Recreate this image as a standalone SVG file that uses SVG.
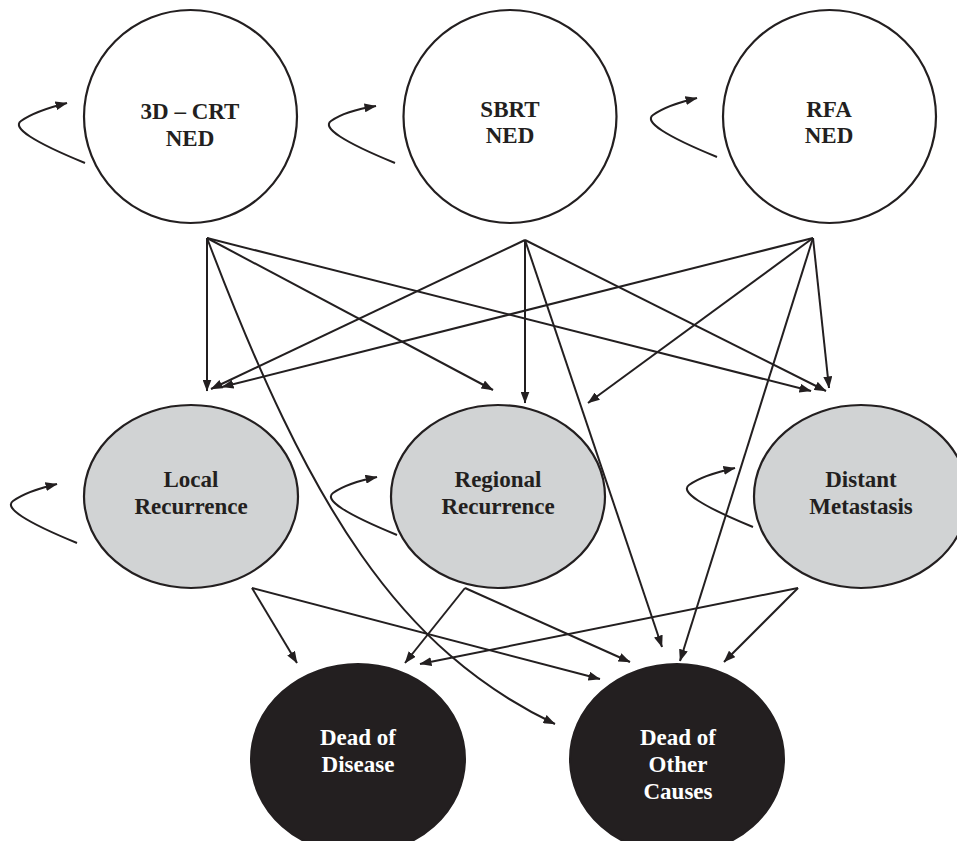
<svg xmlns="http://www.w3.org/2000/svg" width="957" height="841" viewBox="0 0 957 841">
<defs>
<marker id="ah" viewBox="0 0 12 9" refX="11.5" refY="4.5" markerWidth="12" markerHeight="9" markerUnits="userSpaceOnUse" orient="auto">
<path d="M0,0 L12,4.5 L0,9 z" fill="#231f20"/>
</marker>
</defs>
<style>
.c{fill:none;stroke:#231f20;stroke-width:2;marker-end:url(#ah)}
.top{fill:#ffffff;stroke:#231f20;stroke-width:2.2}
.mid{fill:#d1d3d4;stroke:#231f20;stroke-width:2.2}
.bot{fill:#231f20;stroke:#231f20;stroke-width:2}
text{font-family:"Liberation Serif","Times New Roman",serif;font-weight:bold;font-size:23px;text-anchor:middle}
.dk{fill:#231f20}
.wt{fill:#ffffff}
</style>
<rect width="957" height="841" fill="#ffffff"/>
<g id="n-3dcrt">
<circle class="top" cx="190.5" cy="116.5" r="106.5"/>
<text class="dk" x="190" y="119">3D – CRT</text>
<text class="dk" x="190" y="146">NED</text>
</g>
<g id="n-sbrt">
<circle class="top" cx="510" cy="116.5" r="106.5"/>
<text class="dk" x="510" y="117">SBRT</text>
<text class="dk" x="510" y="143">NED</text>
</g>
<g id="n-rfa">
<circle class="top" cx="829.5" cy="116.5" r="106.5"/>
<text class="dk" x="829" y="117">RFA</text>
<text class="dk" x="829" y="143">NED</text>
</g>
<g id="n-local">
<ellipse class="mid" cx="191" cy="496.5" rx="107" ry="91.5"/>
<text class="dk" x="191" y="487">Local</text>
<text class="dk" x="191" y="514">Recurrence</text>
</g>
<g id="n-regional">
<ellipse class="mid" cx="498" cy="496.5" rx="107" ry="91.5"/>
<text class="dk" x="498" y="487">Regional</text>
<text class="dk" x="498" y="514">Recurrence</text>
</g>
<g id="n-distant">
<ellipse class="mid" cx="861" cy="496.5" rx="107" ry="91.5"/>
<text class="dk" x="861" y="487">Distant</text>
<text class="dk" x="861" y="514">Metastasis</text>
</g>
<g id="n-dod">
<ellipse class="bot" cx="358" cy="759" rx="107" ry="95"/>
<text class="wt" x="358" y="745">Dead of</text>
<text class="wt" x="358" y="772">Disease</text>
</g>
<g id="n-dooc">
<ellipse class="bot" cx="677" cy="759" rx="107" ry="95"/>
<text class="wt" x="678" y="745">Dead of</text>
<text class="wt" x="678" y="772">Other</text>
<text class="wt" x="678" y="799">Causes</text>
</g>
<g id="connectors">
<path class="c" d="M85,163 Q7,131 21,121 Q35,111 67,103"/>
<path class="c" d="M395,163 Q317,131 331,121 Q345,111 376,106"/>
<path class="c" d="M717,157 Q639,125 653,115 Q667,105 697,98"/>
<path class="c" d="M77,543 Q-1,511 13,501 Q27,491 57,484"/>
<path class="c" d="M397,535 Q319,503 333,493 Q347,483 377,477"/>
<path class="c" d="M753,527 Q675,495 689,485 Q703,475 735,468"/>
<path class="c" d="M207,238 L207,391"/>
<path class="c" d="M207,238 L493,390"/>
<path class="c" d="M207,238 L811,391"/>
<path class="c" d="M207,238 C310,510 400,650 555,724"/>
<path class="c" d="M525,240 L211,389"/>
<path class="c" d="M525,240 L525,403"/>
<path class="c" d="M525,240 L826,391"/>
<path class="c" d="M525,240 L662,647"/>
<path class="c" d="M813,238 L222,387"/>
<path class="c" d="M813,238 L588,403"/>
<path class="c" d="M813,238 L829,388"/>
<path class="c" d="M813,238 L680,661"/>
<path class="c" d="M252,588 L297,663"/>
<path class="c" d="M252,588 L600,679"/>
<path class="c" d="M465,588 L405,663"/>
<path class="c" d="M465,588 L630,662"/>
<path class="c" d="M798,588 L420,664"/>
<path class="c" d="M798,588 L724,662"/>
</g>
</svg>
